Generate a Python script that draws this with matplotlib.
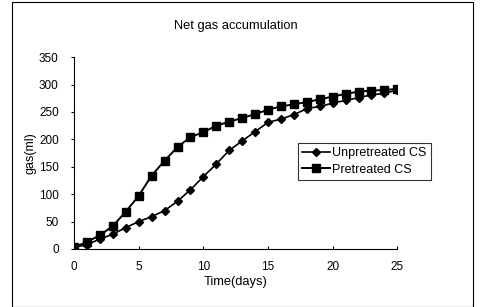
import matplotlib
matplotlib.use("Agg")
import matplotlib.pyplot as plt
from matplotlib.patches import Rectangle

plt.rcParams["font.family"] = ["Liberation Sans", "DejaVu Sans"]

# data
days = list(range(0, 26))
unpretreated = [3, 8, 18, 27, 39, 50, 59, 70, 87, 108, 132, 155, 180, 197, 214,
                231, 237, 245, 256, 260, 266, 271, 276, 281, 284, 290]
pretreated = [3, 13, 25, 42, 68, 97, 134, 161, 186, 204, 213, 225, 232, 239, 246,
              254, 260, 264, 268, 273, 278, 283, 287, 289, 290, 292]

fig = plt.figure(figsize=(4.84, 3.07), dpi=100)
fig.patch.set_facecolor("white")
ax = fig.add_axes([0.153, 0.189, 0.668, 0.625])

ax.plot(days, unpretreated, color="black", linewidth=1.2, marker="D",
        markersize=3.8, label="Unpretreated CS")
ax.plot(days, pretreated, color="black", linewidth=1.4, marker="s",
        markersize=5.2, label="Pretreated CS")

ax.set_xlim(0, 25)
ax.set_ylim(0, 350)
ax.set_xticks([0, 5, 10, 15, 20, 25])
ax.set_yticks(range(0, 351, 50))
ax.spines["top"].set_visible(False)
ax.spines["right"].set_visible(False)
ax.spines["left"].set_linewidth(0.8)
ax.spines["bottom"].set_linewidth(0.8)
ax.tick_params(axis="x", direction="in", length=2, labelsize=8.5, pad=9)
ax.tick_params(axis="y", direction="out", length=2, labelsize=8.5, pad=9)
ax.set_xlabel("Time(days)", fontsize=9.3, labelpad=2)
ax.set_ylabel("gas(ml)", fontsize=9, labelpad=2)
ax.set_title("Net gas accumulation", fontsize=9.3, pad=20)

leg = ax.legend(loc="upper left", bbox_to_anchor=(298 / 484, 1 - 143 / 307),
                bbox_transform=fig.transFigure, fontsize=9, frameon=True,
                fancybox=False, edgecolor="black", handlelength=2.2,
                borderpad=0.35, labelspacing=0.35, handletextpad=0.15,
                borderaxespad=0)
leg.get_frame().set_linewidth(0.8)

# outer chart frame
fig.patches.append(Rectangle((12 / 484, 0.0), (473 - 12) / 484, 1 - 2 / 307,
                             transform=fig.transFigure, fill=False,
                             edgecolor="black", linewidth=0.8))

fig.savefig("out.png", dpi=100)
